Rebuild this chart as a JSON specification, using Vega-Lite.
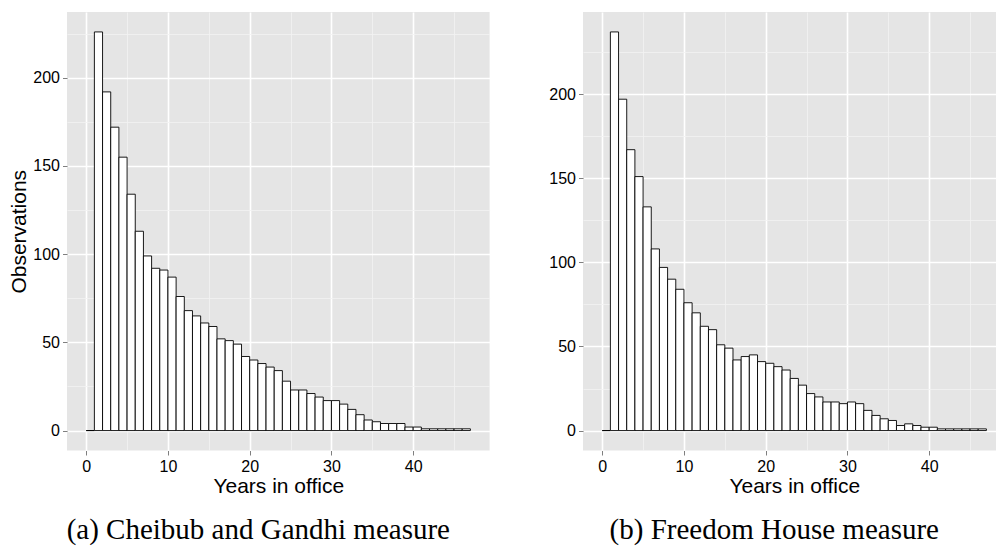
{
  "$schema": "https://vega.github.io/schema/vega-lite/v6.json",
  "padding": {"left": 8, "top": 12, "right": 0, "bottom": 0},
  "background": "white",
  "datasets": {
    "cg": [
      {"from": 0, "to": 1, "count": 0}, {"from": 1, "to": 2, "count": 226}, {"from": 2, "to": 3, "count": 192},
      {"from": 3, "to": 4, "count": 172}, {"from": 4, "to": 5, "count": 155}, {"from": 5, "to": 6, "count": 134},
      {"from": 6, "to": 7, "count": 113}, {"from": 7, "to": 8, "count": 99}, {"from": 8, "to": 9, "count": 92},
      {"from": 9, "to": 10, "count": 91}, {"from": 10, "to": 11, "count": 87}, {"from": 11, "to": 12, "count": 76},
      {"from": 12, "to": 13, "count": 68}, {"from": 13, "to": 14, "count": 65}, {"from": 14, "to": 15, "count": 61},
      {"from": 15, "to": 16, "count": 59}, {"from": 16, "to": 17, "count": 52}, {"from": 17, "to": 18, "count": 51},
      {"from": 18, "to": 19, "count": 49}, {"from": 19, "to": 20, "count": 42}, {"from": 20, "to": 21, "count": 40},
      {"from": 21, "to": 22, "count": 38}, {"from": 22, "to": 23, "count": 36}, {"from": 23, "to": 24, "count": 34},
      {"from": 24, "to": 25, "count": 28}, {"from": 25, "to": 26, "count": 23}, {"from": 26, "to": 27, "count": 23},
      {"from": 27, "to": 28, "count": 21}, {"from": 28, "to": 29, "count": 19}, {"from": 29, "to": 30, "count": 17},
      {"from": 30, "to": 31, "count": 17}, {"from": 31, "to": 32, "count": 15}, {"from": 32, "to": 33, "count": 12},
      {"from": 33, "to": 34, "count": 9}, {"from": 34, "to": 35, "count": 6}, {"from": 35, "to": 36, "count": 5},
      {"from": 36, "to": 37, "count": 4}, {"from": 37, "to": 38, "count": 4}, {"from": 38, "to": 39, "count": 4},
      {"from": 39, "to": 40, "count": 2}, {"from": 40, "to": 41, "count": 2}, {"from": 41, "to": 42, "count": 1},
      {"from": 42, "to": 43, "count": 1}, {"from": 43, "to": 44, "count": 1}, {"from": 44, "to": 45, "count": 1},
      {"from": 45, "to": 46, "count": 1}, {"from": 46, "to": 47, "count": 1}
    ],
    "fh": [
      {"from": 0, "to": 1, "count": 0}, {"from": 1, "to": 2, "count": 237}, {"from": 2, "to": 3, "count": 197},
      {"from": 3, "to": 4, "count": 167}, {"from": 4, "to": 5, "count": 151}, {"from": 5, "to": 6, "count": 133},
      {"from": 6, "to": 7, "count": 108}, {"from": 7, "to": 8, "count": 97}, {"from": 8, "to": 9, "count": 90},
      {"from": 9, "to": 10, "count": 84}, {"from": 10, "to": 11, "count": 76}, {"from": 11, "to": 12, "count": 70},
      {"from": 12, "to": 13, "count": 62}, {"from": 13, "to": 14, "count": 60}, {"from": 14, "to": 15, "count": 51},
      {"from": 15, "to": 16, "count": 49}, {"from": 16, "to": 17, "count": 42}, {"from": 17, "to": 18, "count": 44},
      {"from": 18, "to": 19, "count": 45}, {"from": 19, "to": 20, "count": 41}, {"from": 20, "to": 21, "count": 40},
      {"from": 21, "to": 22, "count": 38}, {"from": 22, "to": 23, "count": 36}, {"from": 23, "to": 24, "count": 31},
      {"from": 24, "to": 25, "count": 27}, {"from": 25, "to": 26, "count": 22}, {"from": 26, "to": 27, "count": 20},
      {"from": 27, "to": 28, "count": 17}, {"from": 28, "to": 29, "count": 17}, {"from": 29, "to": 30, "count": 16},
      {"from": 30, "to": 31, "count": 17}, {"from": 31, "to": 32, "count": 16}, {"from": 32, "to": 33, "count": 12},
      {"from": 33, "to": 34, "count": 9}, {"from": 34, "to": 35, "count": 7}, {"from": 35, "to": 36, "count": 6},
      {"from": 36, "to": 37, "count": 3}, {"from": 37, "to": 38, "count": 4}, {"from": 38, "to": 39, "count": 3},
      {"from": 39, "to": 40, "count": 2}, {"from": 40, "to": 41, "count": 2}, {"from": 41, "to": 42, "count": 1},
      {"from": 42, "to": 43, "count": 1}, {"from": 43, "to": 44, "count": 1}, {"from": 44, "to": 45, "count": 1},
      {"from": 45, "to": 46, "count": 1}, {"from": 46, "to": 47, "count": 1}
    ]
  },
  "hconcat": [
    {
      "width": 422.6,
      "height": 438.5,
      "data": {"name": "cg"},
      "title": {"text": "(a) Cheibub and Gandhi measure", "orient": "bottom", "anchor": "middle", "frame": "group", "dx": -20, "offset": 20},
      "mark": {"type": "bar", "fill": "white", "stroke": "black", "strokeWidth": 0.9},
      "encoding": {
        "x": {
          "field": "from", "type": "quantitative",
          "scale": {"domain": [-2.35, 49.35], "nice": false, "zero": false},
          "axis": {
            "title": "Years in office",
            "values": [0, 5, 10, 15, 20, 25, 30, 35, 40, 45],
            "labelExpr": "datum.value % 10 === 0 ? datum.label : ''",
            "tickOpacity": {"condition": {"test": "datum.value % 10 === 0", "value": 1}, "value": 0},
            "gridColor": {"condition": {"test": "datum.value % 10 === 0", "value": "#FFFFFF"}, "value": "#F2F2F2"},
            "gridWidth": {"condition": {"test": "datum.value % 10 === 0", "value": 1.6}, "value": 0.8}
          }
        },
        "x2": {"field": "to"},
        "y": {
          "field": "count", "type": "quantitative",
          "scale": {"domain": [-11.3, 237.3], "nice": false, "zero": false},
          "axis": {
            "title": "Observations",
            "values": [0, 25, 50, 75, 100, 125, 150, 175, 200, 225],
            "labelExpr": "datum.value % 50 === 0 ? datum.label : ''",
            "tickOpacity": {"condition": {"test": "datum.value % 50 === 0", "value": 1}, "value": 0},
            "gridColor": {"condition": {"test": "datum.value % 50 === 0", "value": "#FFFFFF"}, "value": "#F2F2F2"},
            "gridWidth": {"condition": {"test": "datum.value % 50 === 0", "value": 1.6}, "value": 0.8}
          }
        },
        "y2": {"datum": 0}
      }
    },
    {
      "width": 422.6,
      "height": 438.5,
      "data": {"name": "fh"},
      "title": {"text": "(b) Freedom House measure", "orient": "bottom", "anchor": "middle", "frame": "group", "dx": -20, "offset": 20},
      "mark": {"type": "bar", "fill": "white", "stroke": "black", "strokeWidth": 0.9},
      "encoding": {
        "x": {
          "field": "from", "type": "quantitative",
          "scale": {"domain": [-2.35, 49.35], "nice": false, "zero": false},
          "axis": {
            "title": "Years in office",
            "values": [0, 5, 10, 15, 20, 25, 30, 35, 40, 45],
            "labelExpr": "datum.value % 10 === 0 ? datum.label : ''",
            "tickOpacity": {"condition": {"test": "datum.value % 10 === 0", "value": 1}, "value": 0},
            "gridColor": {"condition": {"test": "datum.value % 10 === 0", "value": "#FFFFFF"}, "value": "#F2F2F2"},
            "gridWidth": {"condition": {"test": "datum.value % 10 === 0", "value": 1.6}, "value": 0.8}
          }
        },
        "x2": {"field": "to"},
        "y": {
          "field": "count", "type": "quantitative",
          "scale": {"domain": [-11.85, 248.85], "nice": false, "zero": false},
          "axis": {
            "title": null,
            "values": [0, 25, 50, 75, 100, 125, 150, 175, 200, 225],
            "labelExpr": "datum.value % 50 === 0 ? datum.label : ''",
            "tickOpacity": {"condition": {"test": "datum.value % 50 === 0", "value": 1}, "value": 0},
            "gridColor": {"condition": {"test": "datum.value % 50 === 0", "value": "#FFFFFF"}, "value": "#F2F2F2"},
            "gridWidth": {"condition": {"test": "datum.value % 50 === 0", "value": 1.6}, "value": 0.8}
          }
        },
        "y2": {"datum": 0}
      }
    }
  ],
  "config": {
    "view": {"fill": "#E5E5E5", "stroke": null},
    "concat": {"spacing": 58},
    "axis": {
      "domain": false,
      "tickColor": "#7F7F7F",
      "tickSize": 4.5,
      "tickWidth": 1,
      "labelFont": "Liberation Sans",
      "labelFontSize": 16,
      "labelColor": "#000000",
      "labelPadding": 3,
      "labelOverlap": false,
      "labelFlush": false,
      "titleFont": "Liberation Sans",
      "titleFontSize": 21,
      "titleFontWeight": "normal",
      "titleColor": "#000000"
    },
    "axisX": {"titlePadding": 1},
    "axisY": {"titlePadding": 3},
    "title": {"font": "Liberation Serif", "fontSize": 29, "fontWeight": "normal", "color": "#000000"}
  }
}
